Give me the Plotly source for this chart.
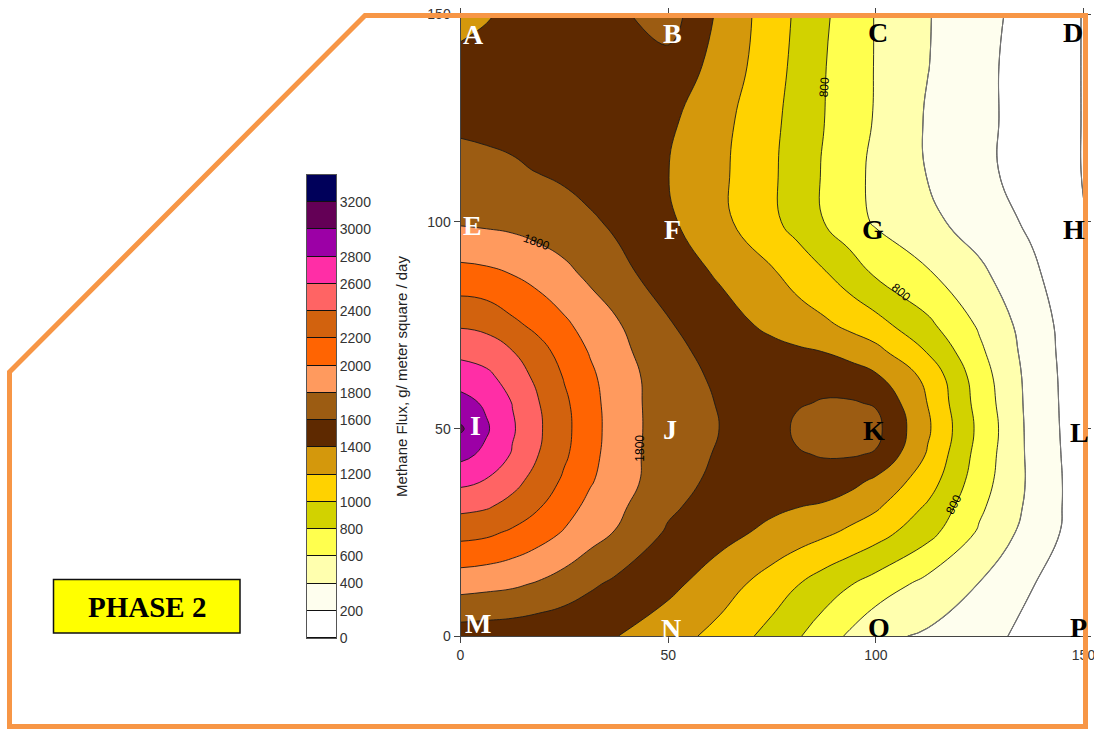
import plotly.graph_objects as go

# ---------------------------------------------------------------------------
# Page geometry (pixels) – figure is laid out with zero margins and every
# element is positioned from these pixel anchors.
# ---------------------------------------------------------------------------
W, H = 1094, 729
PLOT_L, PLOT_R, PLOT_T, PLOT_B = 460.5, 1083.5, 14.5, 636.0
BAR_L, BAR_R, BAR_T, BAR_B = 307.0, 336.0, 175.0, 638.0


def fx(px):
    return px / W


def fy(py):
    return 1.0 - py / H


# ---------------------------------------------------------------------------
# Data: methane flux (g / m^2 / day) over the 150 m x 150 m cell.
# The grid is denser around the hot spot at I and the local high at K.
# ---------------------------------------------------------------------------
grid_x = [0, 6.25, 12.5, 18.75, 25, 31.25, 37.5, 50, 62.5, 75, 81.25, 87.5,
          93.75, 100, 112.5, 125, 137.5, 150]
grid_y = [0, 12.5, 25, 31.25, 37.5, 43.75, 50, 56.25, 62.5, 68.75, 75, 87.5,
          100, 112.5, 125, 137.5, 150]

flux_y0000 = [1500, 1490, 1480, 1460, 1440, 1422, 1405, 1289, 1134, 931, 818, 696, 570, 440, 375, 260, 150, 90]
flux_y1250 = [1876, 1855, 1830, 1780, 1715, 1630, 1560, 1450, 1295, 1106, 1005, 900, 810, 717, 537, 393, 207, 100]
flux_y2500 = [2267, 2240, 2170, 2085, 1985, 1880, 1790, 1575, 1465, 1352, 1294, 1237, 1165, 1083, 865, 573, 320, 100]
flux_y3125 = [2452, 2420, 2337, 2217, 2082, 1947, 1845, 1635, 1505, 1436, 1405, 1370, 1300, 1230, 975, 635, 350, 95]
flux_y3750 = [2653, 2590, 2464, 2325, 2168, 2020, 1891, 1691, 1545, 1520, 1525, 1545, 1470, 1362, 1095, 688, 360, 90]
flux_y4375 = [2857, 2753, 2582, 2400, 2229, 2065, 1895, 1698, 1580, 1535, 1590, 1608, 1614, 1585, 1180, 720, 350, 85]
flux_y5000 = [3030, 2824, 2623, 2429, 2249, 2080, 1905, 1700, 1598, 1540, 1625, 1658, 1665, 1652, 1229, 748, 341, 80]
flux_y5625 = [2869, 2770, 2594, 2409, 2234, 2070, 1900, 1700, 1588, 1540, 1590, 1608, 1614, 1585, 1195, 720, 336, 75]
flux_y6250 = [2712, 2650, 2507, 2352, 2188, 2038, 1892, 1698, 1560, 1530, 1548, 1562, 1512, 1430, 1149, 692, 331, 70]
flux_y6875 = [2544, 2504, 2403, 2268, 2127, 1984, 1862, 1660, 1525, 1455, 1425, 1395, 1325, 1255, 985, 633, 318, 65]
flux_y7500 = [2381, 2350, 2244, 2150, 2037, 1920, 1825, 1617, 1482, 1358, 1299, 1240, 1158, 1075, 844, 574, 305, 60]
flux_y8750 = [2061, 2040, 1994, 1925, 1847, 1758, 1658, 1508, 1376, 1224, 1121, 1019, 897, 775, 619, 438, 240, 20]
flux_y10000 = [1777, 1762, 1745, 1712, 1680, 1625, 1569, 1433, 1252, 1043, 922, 800, 685, 575, 447, 312, 165, 5]
flux_y11250 = [1666, 1645, 1623, 1592, 1562, 1522, 1483, 1403, 1240, 1030, 907, 784, 670, 555, 389, 247, 117, -6]
flux_y12500 = [1558, 1550, 1540, 1528, 1515, 1502, 1490, 1440, 1263, 1046, 925, 804, 695, 585, 382, 248, 119, -6]
flux_y13750 = [1454, 1472, 1490, 1500, 1510, 1520, 1530, 1530, 1330, 1080, 945, 810, 700, 590, 405, 250, 115, -6]
flux_y15000 = [1340, 1385, 1440, 1470, 1500, 1530, 1560, 1700, 1360, 1100, 965, 830, 710, 590, 410, 270, 120, -6]

flux = [flux_y0000, flux_y1250, flux_y2500, flux_y3125, flux_y3750, flux_y4375,
        flux_y5000, flux_y5625, flux_y6250, flux_y6875, flux_y7500, flux_y8750,
        flux_y10000, flux_y11250, flux_y12500, flux_y13750, flux_y15000]

# contour levels
level_start, level_end, level_step = 0, 3200, 200
band_lows = list(range(0, 3400, 200))          # 0 ... 3200 (colour-key bands)
key_ticks = list(range(0, 3400, 200))

# fill colours: below 0, then 0-200, 200-400, ..., 3000-3200, >3200
band_colors = [
    "#FFFFFF",  # < 0
    "#FFFFFF",  # 0-200
    "#FEFEEE",  # 200-400
    "#FFFFAE",  # 400-600
    "#FFFF4E",  # 600-800
    "#D2D200",  # 800-1000
    "#FFD200",  # 1000-1200
    "#D4980C",  # 1200-1400
    "#5E2900",  # 1400-1600
    "#9C5C12",  # 1600-1800
    "#FF9A5E",  # 1800-2000
    "#FF6402",  # 2000-2200
    "#D2620E",  # 2200-2400
    "#FF6464",  # 2400-2600
    "#FF2EA6",  # 2600-2800
    "#9C00A6",  # 2800-3000
    "#640056",  # 3000-3200
    "#00005A",  # > 3200
]
n_steps = len(band_colors) - 1
band_scale = [[k / n_steps, c] for k, c in enumerate(band_colors)]

# sampling stations
station_names = list("ABCDEFGHIJKLMNOP")
station_x = [0, 50, 100, 150] * 4
station_y = [150] * 4 + [100] * 4 + [50] * 4 + [0] * 4
station_dx = [13, 4, 2, -11, 12, 4, -3, -10, 15, 2, -2, -4, 17, 3, 3, -5]
station_dy = [20, 19, 18, 18, 4, 8, 8, 8, -3, 1, 2, 4, -13, -8, -9, -9]
station_color = ["white", "white", "black", "black"] * 4

# inline contour labels: text, x, y, angle
contour_labels = [
    ("1800", 18.3, 95.1, 20),
    ("1800", 43.3, 45.3, -90),
    ("800", 87.6, 132.5, -86),
    ("800", 106.0, 83.0, 40),
    ("800", 118.7, 31.6, -63),
]

fig = go.Figure()

# filled contours with dark isolines
fig.add_trace(go.Contour(
    x=grid_x, y=grid_y, z=flux,
    autocontour=False,
    contours=dict(start=level_start, end=level_end, size=level_step,
                  coloring="fill", showlines=True),
    colorscale=band_scale,
    line=dict(color="#1a1a1a", width=0.9, smoothing=1.3),
    showscale=False, hoverinfo="skip",
))
# the low isolines are drawn in grey
fig.add_trace(go.Contour(
    x=grid_x, y=grid_y, z=flux,
    autocontour=False,
    contours=dict(start=0, end=400, size=level_step, coloring="none"),
    line=dict(color="#767676", width=1.1, smoothing=1.3),
    showscale=False, hoverinfo="skip",
))

# colour key built as a one-column heatmap on its own axes
fig.add_trace(go.Heatmap(
    x=[0], y=[v + level_step / 2 for v in band_lows],
    z=[[v + level_step / 2] for v in band_lows],
    zmin=level_start - level_step / 2, zmax=level_end + level_step / 2,
    colorscale=band_scale, showscale=False, ygap=1,
    xaxis="x2", yaxis="y2", hoverinfo="skip",
))

tick_font = dict(family="Liberation Sans, Arial, sans-serif", size=14, color="#333333")

fig.update_layout(
    width=W, height=H,
    margin=dict(l=0, r=0, t=0, b=0),
    paper_bgcolor="white", plot_bgcolor="white",
    showlegend=False,
    xaxis=dict(domain=[fx(PLOT_L), fx(PLOT_R)], range=[0, 150],
               tickvals=[0, 50, 100, 150], ticks="outside", ticklen=6,
               tickcolor="#444", showline=True, linecolor="#444", linewidth=1,
               mirror="ticks", showgrid=False, zeroline=False,
               tickfont=tick_font, anchor="y", automargin=False,
               ticklabeloverflow="allow"),
    yaxis=dict(domain=[fy(PLOT_B), fy(PLOT_T)], range=[0, 150],
               tickvals=[0, 50, 100, 150], ticks="outside", ticklen=6,
               tickcolor="#444", showline=True, linecolor="#444", linewidth=1,
               mirror="ticks", showgrid=False, zeroline=False,
               tickfont=tick_font, anchor="x", automargin=False,
               ticklabeloverflow="allow"),
    xaxis2=dict(domain=[fx(BAR_L), fx(BAR_R)], range=[-0.5, 0.5],
                showticklabels=False, ticks="", showline=True, mirror=True,
                linecolor="#555", linewidth=1, showgrid=False, zeroline=False,
                anchor="y2", fixedrange=True),
    yaxis2=dict(domain=[fy(BAR_B), fy(BAR_T)], range=[0, 3400],
                tickvals=key_ticks, ticktext=[str(v) for v in key_ticks],
                side="right", ticks="", showline=True, mirror=True,
                linecolor="#555", linewidth=1, showgrid=False, zeroline=False,
                tickfont=tick_font, anchor="x2", fixedrange=True, automargin=False),
)

shapes = [
    # black backing so the key's cell gaps read as separator lines
    dict(type="rect", xref="x2 domain", yref="y2 domain", x0=0, x1=1, y0=0, y1=1,
         fillcolor="#111111", line=dict(width=0), layer="below"),
    # PHASE 2 box
    dict(type="rect", xref="paper", yref="paper",
         x0=fx(53.5), x1=fx(240), y0=fy(633), y1=fy(579.5),
         fillcolor="#FFFF00", line=dict(color="#111111", width=1.5), layer="above"),
    # orange frame
    dict(type="path", xref="paper", yref="paper",
         path=(f"M {fx(365)},{fy(15.5)} L {fx(1085.5)},{fy(15.5)} "
               f"L {fx(1085.5)},{fy(726.5)} L {fx(9.5)},{fy(726.5)} "
               f"L {fx(9.5)},{fy(372)} Z"),
         line=dict(color="#F79646", width=5), fillcolor="rgba(0,0,0,0)", layer="above"),
]
fig.update_layout(shapes=shapes)

annotations = []
for name, sx, sy, dx, dy, col in zip(station_names, station_x, station_y,
                                     station_dx, station_dy, station_color):
    annotations.append(dict(
        x=sx, y=sy, xref="x", yref="y", text=f"<b>{name}</b>", showarrow=False,
        xanchor="center", yanchor="middle", xshift=dx, yshift=-dy,
        font=dict(family="Liberation Serif, Times New Roman, serif", size=28, color=col),
    ))

for txt, lx, ly, ang in contour_labels:
    annotations.append(dict(
        x=lx, y=ly, xref="x", yref="y", text=txt, showarrow=False,
        textangle=ang, xanchor="center", yanchor="middle",
        font=dict(family="Liberation Sans, Arial, sans-serif", size=12, color="black"),
    ))

annotations.append(dict(
    x=fx(401), y=fy(377), xref="paper", yref="paper",
    text="Methane Flux, g/ meter square / day", showarrow=False, textangle=-90,
    xanchor="center", yanchor="middle",
    font=dict(family="Liberation Sans, Arial, sans-serif", size=15, color="#222222"),
))
annotations.append(dict(
    x=fx(146.5), y=fy(606.5), xref="paper", yref="paper",
    text="<b>PHASE 2</b>", showarrow=False, xanchor="center", yanchor="middle",
    font=dict(family="Liberation Serif, Times New Roman, serif", size=29, color="black"),
))
fig.update_layout(annotations=annotations)

fig.write_html("out.html")
